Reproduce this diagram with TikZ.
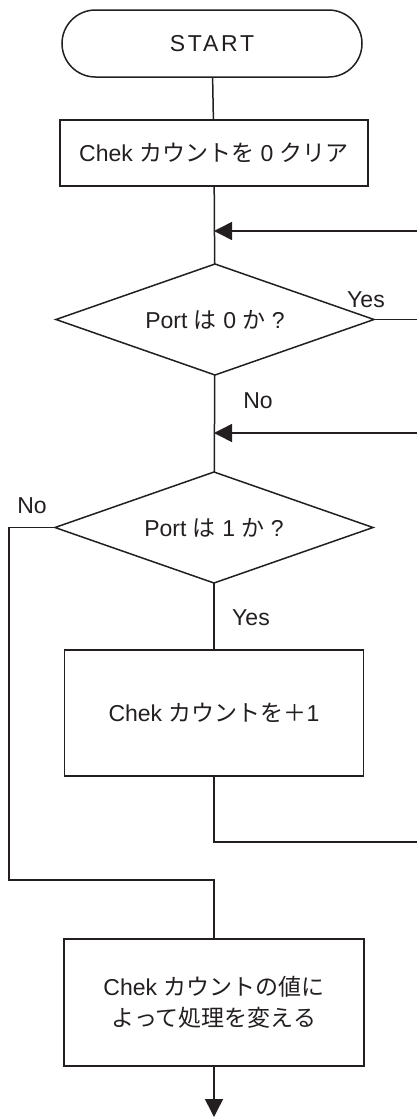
\documentclass[tikz,border=0pt]{standalone}
\usepackage{fontspec}
\setmainfont{Liberation Sans}
\newfontfamily\jp{Noto Sans CJK JP}
\usetikzlibrary{shapes.geometric,shapes.misc,arrows.meta}
\definecolor{ink}{HTML}{231F20}
\newcommand{\ja}[1]{{\jp #1}}

\begin{document}
\begin{tikzpicture}[x=1pt,y=-1pt,line width=1.5pt,draw=ink,
        every node/.style={font=\fontsize{23}{31}\selectfont,text=ink,inner sep=0pt},
        term/.style={draw=ink,rounded rectangle,minimum width=300pt,minimum height=67pt,outer sep=0pt},
        proc/.style={draw=ink,rectangle,minimum width=300pt,outer sep=0pt,align=center},
        decide/.style={draw=ink,diamond,aspect=2.86,minimum width=318pt,minimum height=111pt,outer sep=0pt},
        arr/.style={-{Triangle[length=18pt,width=18pt]}}]
    \useasboundingbox (0,0) rectangle (417,1117);
    \node[term] (start) at (212,43.5) {\addfontfeatures{LetterSpace=12}START};
    \node[proc,minimum width=308pt,minimum height=66pt] (clear) at (214,153) {Chek \ja{カウントを} 0 \ja{クリア}};
    \node[decide] (port0) at (215,319.5) {Port \ja{は} 0 \ja{か} ?};
    \node[decide] (port1) at (214,527.5) {Port \ja{は} 1 \ja{か} ?};
    \node[proc,minimum width=299pt,minimum height=126pt] (inc) at (214,713) {Chek \ja{カウントを＋}1};
    \node[proc,minimum height=127pt] (branch) at (214,1002.5) {Chek \ja{カウントの値に}\\\ja{よって処理を変える}};
    % labels
    \node (yes0) at (366,300) {Yes};
    \node (no0) at (258,401) {No};
    \node (no1) at (32,506) {No};
    \node (yes1) at (251,618) {Yes};
    % junctions and free ends
    \coordinate (j0) at (214,231);
    \coordinate (j1) at (214,433);
    \coordinate (r0) at (417,231);
    \coordinate (r1) at (417,319.5);
    \coordinate (r2) at (417,433);
    \coordinate (r3) at (417,842);
    \coordinate (k1) at (9,880);
    \coordinate (stop) at (214,1117);
    \draw (start) -- (clear);
    \draw (clear) -- (port0);
    \draw[arr] (r0) -- (j0);
    \draw (port0.east) -- (r1);
    \draw (port0) -- (port1);
    \draw[arr] (r2) -- (j1);
    \draw (port1) -- (inc);
    \draw (inc.south) |- (r3);
    \draw (port1.west) -| (k1) -| (branch.north);
    \draw[arr] (branch) -- (stop);
\end{tikzpicture}
\end{document}
